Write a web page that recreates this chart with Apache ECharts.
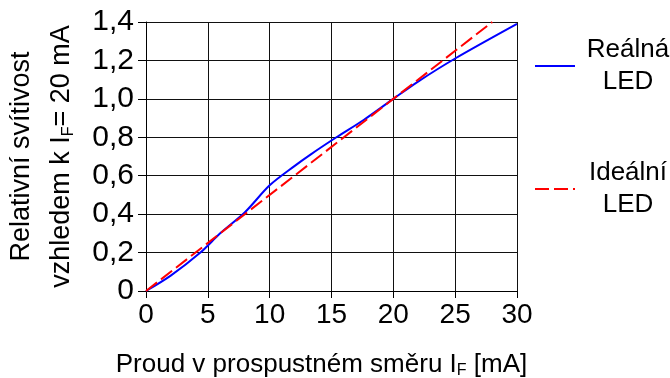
<!DOCTYPE html>
<html>
<head>
<meta charset="utf-8">
<script src="https://cdn.jsdelivr.net/npm/echarts@6/dist/echarts.min.js"></script>
<style>
  html, body { margin: 0; padding: 0; background: #fff; }
  #chart { width: 670px; height: 378px; }
</style>
</head>
<body>
<div id="chart"></div>
<script>
// proud v mA a relativni svitivost
const currentReal = [0, 2, 4.4, 6, 8, 10, 12, 13.3, 15.4, 17.6, 20, 22, 25, 30];
const lumReal = [0, 0.08, 0.2, 0.3, 0.41, 0.55, 0.65, 0.71, 0.8, 0.89, 1.0, 1.09, 1.21, 1.39];
const currentIdeal = [0, 28];
const lumIdeal = [0, 1.4];
const xTicks = [0, 5, 10, 15, 20, 25, 30];
const yTicks = [0, 0.2, 0.4, 0.6, 0.8, 1.0, 1.2, 1.4];

const FONT = "'Liberation Sans', Arial, sans-serif";

const chart = echarts.init(document.getElementById("chart"));

const fmtY = (v) => (v === 0 ? "0" : v.toFixed(1).replace(".", ","));

chart.setOption({
  animation: false,
  textStyle: { fontFamily: FONT, color: "#000" },
  grid: { left: 146, right: 153, top: 22, bottom: 87, containLabel: false, outerBoundsMode: "none" },
  legend: {
    orient: "vertical",
    left: 534,
    top: 37,
    padding: 0,
    itemWidth: 40,
    itemHeight: 14,
    itemGap: 65,
    itemStyle: { opacity: 0 },
    data: ["Reálná LED", "Ideální LED"],
    formatter: (name) => {
      const parts = name.split(" ");
      return "{a|" + parts[0] + "}\n{a|" + parts[1] + "}";
    },
    textStyle: {
      rich: {
        a: { fontFamily: FONT, fontSize: 26, lineHeight: 32, width: 96, align: "center", color: "#000" }
      }
    }
  },
  xAxis: {
    type: "value",
    min: xTicks[0],
    max: xTicks[xTicks.length - 1],
    interval: 5,
    name: "Proud v prospustném směru I{sub|F} [mA]",
    nameLocation: "middle",
    nameGap: 59,
    nameTextStyle: {
      fontFamily: FONT, fontSize: 26, color: "#000", padding: [0, 20, 0, 0],
      rich: { sub: { fontFamily: FONT, fontSize: 16, padding: [13, 0, 0, 0], color: "#000" } }
    },
    axisLine: { show: true, lineStyle: { color: "#000", width: 1 } },
    axisTick: { show: true, length: 7, lineStyle: { color: "#000" } },
    axisLabel: { fontSize: 28, margin: 10, color: "#000", fontFamily: FONT },
    splitLine: { show: true, lineStyle: { color: "#111", width: 1 } }
  },
  yAxis: {
    type: "value",
    min: yTicks[0],
    max: yTicks[yTicks.length - 1],
    interval: 0.2,
    name: "Relativní svítivost\nvzhledem k I{sub|F}= 20 mA",
    nameLocation: "middle",
    nameGap: 64,
    nameTextStyle: {
      fontFamily: FONT, fontSize: 27, lineHeight: 40, color: "#000",
      rich: { sub: { fontFamily: FONT, fontSize: 16, lineHeight: 40, padding: [14, 0, 0, 0], color: "#000" } }
    },
    axisLine: { show: true, lineStyle: { color: "#000", width: 1 } },
    axisTick: { show: true, length: 8, lineStyle: { color: "#000" } },
    axisLabel: { fontSize: 30, margin: 12, color: "#000", fontFamily: FONT, formatter: fmtY },
    splitLine: { show: true, lineStyle: { color: "#111", width: 1 } }
  },
  series: [
    {
      name: "Reálná LED",
      type: "line",
      symbol: "none",
      smooth: 0.3,
      data: currentReal.map((x, i) => [x, lumReal[i]]),
      lineStyle: { color: "#0000ff", width: 2 },
      itemStyle: { color: "#0000ff" }
    },
    {
      name: "Ideální LED",
      type: "line",
      symbol: "none",
      data: currentIdeal.map((x, i) => [x, lumIdeal[i]]),
      lineStyle: { color: "#ff0000", width: 2, type: [14, 5] },
      itemStyle: { color: "#ff0000" }
    }
  ]
});
</script>
</body>
</html>
